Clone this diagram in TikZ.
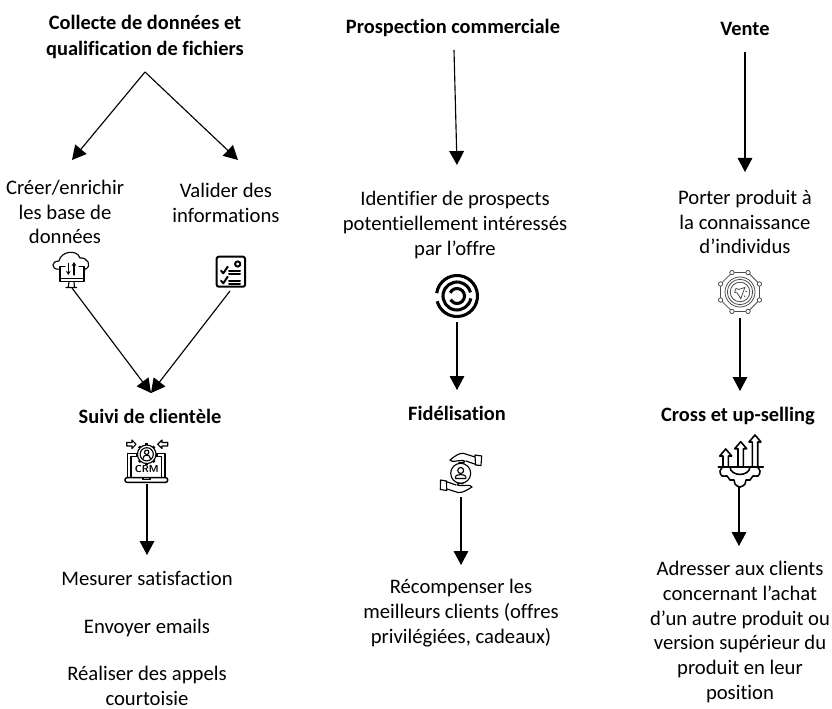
\documentclass[tikz,border=0pt]{standalone}
\usepackage{fontspec}
\setmainfont{Carlito}[Ligatures=CommonOff]
\usetikzlibrary{arrows.meta}
\tikzset{
  x=0.75pt, y=-0.75pt,
  titlenode/.style={align=center, font=\fontsize{15.3}{19.5}\selectfont\bfseries, inner sep=0pt},
  textnode/.style={align=center, font=\fontsize{15.5}{18.5}\selectfont, inner sep=0pt},
  link/.style={-{Triangle[length=10.5pt,width=11pt]}, line width=0.85pt},
  icon/.style={line width=0.85pt, line cap=round, line join=round},
  iconthick/.style={line width=1.5pt, line cap=round, line join=round},
  icongrey/.style={line width=0.6pt, draw=black!70},
}
\begin{document}
\begin{tikzpicture}
\useasboundingbox (0,0) rectangle (832,709);
% titles
\node[titlenode] (collecte) at (145,37) {Collecte de données et\\qualification de fichiers};
\node[titlenode] (prospection) at (453,28) {Prospection commerciale};
\node[titlenode] (vente) at (745,29) {Vente};
\node[titlenode] (suivi) at (150,416) {Suivi de clientèle};
\node[titlenode] (fidelisation) at (457,413) {Fidélisation};
\node[titlenode] (cross) at (738,416) {Cross et up-selling};
% texts
\node[textnode] (creer) at (65,212) {Créer/enrichir\\les base de\\données};
\node[textnode] (valider) at (226,203) {Valider des\\informations};
\node[textnode] (identifier) at (455,225) {Identifier de prospects\\potentiellement intéressés\\par l’offre};
\node[textnode] (porter) at (745,222) {Porter produit à\\la connaissance\\d’individus};
\node[textnode] (mesurer) at (147,578) {Mesurer satisfaction};
\node[textnode] (envoyer) at (147,628) {Envoyer emails};
\node[textnode] (realiser) at (147,686) {Réaliser des appels\\courtoisie};
\node[textnode] (recompenser) at (461,613) {Récompenser les\\meilleurs clients (offres\\privilégiées, cadeaux)};
\node[textnode] (adresser) at (740,632) {Adresser aux clients\\concernant l’achat\\d’un autre produit ou\\version supérieur du\\produit en leur\\position};
% free ends of the links
\coordinate (collecteout) at (145,72);
\coordinate (creerin) at (72,160);
\coordinate (validerin) at (238,160);
\coordinate (prospectionout) at (454,50);
\coordinate (identifierin) at (457,165);
\coordinate (venteout) at (745,52);
\coordinate (porterin) at (745,172);
\coordinate (creerout) at (72,288);
\coordinate (validerout) at (230,291);
\coordinate (suiviin) at (151,393);
\coordinate (identifierout) at (457,322);
\coordinate (fidelisationin) at (457,390);
\coordinate (porterout) at (740,318);
\coordinate (crossin) at (740,391);
\coordinate (suiviout) at (147,484);
\coordinate (mesurerin) at (147,555);
\coordinate (fidelisationout) at (461,497);
\coordinate (recompenserin) at (461,565);
\coordinate (crossout) at (739,487);
\coordinate (adresserin) at (739,546);
% links
\draw[link] (collecteout) -- (creerin);
\draw[link] (collecteout) -- (validerin);
\draw[link] (prospectionout) -- (identifierin);
\draw[link] (venteout) -- (porterin);
\draw[link] (creerout) -- (suiviin);
\draw[link] (validerout) -- (suiviin);
\draw[link] (identifierout) -- (fidelisationin);
\draw[link] (porterout) -- (crossin);
\draw[link] (suiviout) -- (mesurerin);
\draw[link] (fidelisationout) -- (recompenserin);
\draw[link] (crossout) -- (adresserin);
% icon: cloud and monitor
\begin{scope}[shift={(71,270)}, icon]
\draw (-12.7,-0.7) .. controls (-20,-1) and (-20,-9) .. (-12,-9) .. controls (-10,-19) and (6,-21) .. (9,-12) .. controls (16,-13) and (22,-4) .. (14,-0.7);
\draw (-6,-3.3) -- (-11,-3.3) -- (-11,11.7) -- (13,11.7) -- (13,-3.3) -- (8,-3.3);
\draw (-11,8.3) -- (13,8.3);
\draw (-2,11.7) -- (-2.7,17.5) (3,11.7) -- (3.5,17.5) (-5,17.5) -- (5.5,17.5);
\draw[-{Stealth[length=3pt,width=3.5pt]}] (-2.7,-6.7) -- (-2.7,5);
\draw[-{Stealth[length=3pt,width=3.5pt]}] (3,5) -- (3,-8);
\end{scope}
% icon: checklist
\begin{scope}[shift={(231,272)}, iconthick]
\draw[rounded corners=1.5pt] (-14.3,-15.3) rectangle (14,14.7);
\draw (6.7,-8) circle (2.6);
\draw (-10,-1.3) -- (-7.7,1.3) -- (-3.3,-5.3);
\draw (-10,8.7) -- (-7.7,11.3) -- (-3.3,4.7);
\draw (-2,-1.3) -- (9,-1.3) (-2,2.3) -- (9,2.3) (-2,8.7) -- (9,8.7) (-2,12.3) -- (9,12.3);
\end{scope}
% icon: target
\begin{scope}[shift={(457,296)}, line width=2.3pt]
\draw (188:20.5) arc[start angle=188, end angle=525, radius=20.5];
\draw (10:14) arc[start angle=10, end angle=345, radius=14];
\draw (205:7.5) arc[start angle=205, end angle=510, radius=7.5];
\end{scope}
% icon: octagon with speaker
\begin{scope}[shift={(740,292)}, icongrey]
\foreach \a in {22.5,67.5,...,337.5} {
  \draw (\a:21) -- (\a+45:21);
}
\foreach \a in {22.5,67.5,...,337.5} {
  \draw[fill=white] (\a:21) circle (2.2);
}
\draw (0,0) circle (15) (0,0) circle (12.7) (0,0) circle (9.8);
\draw[rotate=-20] (-5,-2) -- (-2,-2) -- (3,-6) -- (3,6) -- (-2,2) -- (-5,2) -- cycle;
\draw[rotate=-20] (5,-2) -- (6.5,-3) (5,2) -- (6.5,3);
\end{scope}
% icon: crm laptop
\begin{scope}[shift={(147,467)}, icon]
\draw (-19.3,9.7) -- (-19.3,-13.7) -- (18,-13.7) -- (18,9.7);
\draw (-16,9.7) -- (-16,-10.5) -- (14.7,-10.5) -- (14.7,9.7);
\draw[rounded corners=1.5pt, line width=1.1pt] (-22,10.7) rectangle (20.7,15.3);
\draw (-4,10.7) -- (-4,12.5) -- (3,12.5) -- (3,10.7);
\foreach \a in {0,45,...,315} {
  \draw[line width=2pt, line cap=butt] ([shift={(-0.3,-12.7)}]\a:9) -- ([shift={(-0.3,-12.7)}]\a:11);
}
\draw[fill=white] (-0.3,-12.7) circle (9.3);
\draw (-0.3,-12.7) circle (6.6);
\draw (-0.3,-14.7) circle (2.2);
\draw (-4,-8.5) .. controls (-4,-13) and (3.4,-13) .. (3.4,-8.5);
\node[inner sep=0pt, font=\fontsize{7.5}{8}\sffamily\bfseries] (crmlabel) at (-0.3,2.3) {CRM};
\draw (-20.3,-24.5) -- (-15,-24.5) -- (-15,-27) -- (-11,-22.7) -- (-15,-18.5) -- (-15,-21) -- (-20.3,-21) -- cycle;
\draw (20.7,-24.5) -- (15,-24.5) -- (15,-27) -- (10.7,-22.7) -- (15,-18.5) -- (15,-21) -- (20.7,-21) -- cycle;
\end{scope}
% icon: hands around a client
\begin{scope}[shift={(461,473)}, icon]
\draw (-0.3,0.3) circle (10);
\draw (-0.3,-2.5) circle (3);
\draw (-5.5,5.5) -- (-5.5,3.5) .. controls (-5,1) and (4,1) .. (4.9,3.5) -- (4.9,5.5) -- cycle;
\draw (-11,-13) .. controls (-6,-17) and (-2,-20) .. (2.3,-19.7) -- (14,-16);
\draw (-11,-13) .. controls (-9,-10) and (-3,-13) .. (2,-12.5) .. controls (6,-12) and (3,-9.5) .. (-2,-10.5);
\draw (5,-12) -- (15,-8.5);
\draw (14,-18) -- (20.7,-17) -- (20,-7.5) -- (14.5,-8) -- cycle;
\draw (11,14) .. controls (6,17) and (2,20) .. (-3,19.5) -- (-14,16);
\draw (11,14) .. controls (9,11) and (3,13) .. (-2,12.5) .. controls (-6,12) and (-3,9.5) .. (2,10.5);
\draw (-5,12) -- (-15,8.5);
\draw (-14.3,17.5) -- (-20.7,16.5) -- (-20.5,7) -- (-14.5,8) -- cycle;
\end{scope}
% icon: arrows on a gear
\begin{scope}[shift={(740,467)}, line width=1.2pt, line join=round, line cap=round]
\draw (-21.7,-0.3) -- (23.3,-0.3);
\foreach \cx/\top in {-14.3/-18, 0.7/-25.3, 15/-32} {
  \draw (\cx-2.7,-0.3) -- (\cx-2.7,\top+7) -- (\cx-6,\top+7) -- (\cx,\top) -- (\cx+6,\top+7) -- (\cx+2.7,\top+7) -- (\cx+2.7,-0.3);
}
\draw (-10,-0.3) .. controls (-10,10) and (10,10) .. (10,-0.3);
\draw plot[smooth, tension=0.7] coordinates {(-17,-0.3) (-20,4) (-18,9) (-13,9) (-10,13) (-6,13) (-5,17) (0,20) (5,17) (6,13) (10,13) (13,9) (18,9) (20,4) (17,-0.3)};
\end{scope}
\end{tikzpicture}
\end{document}
